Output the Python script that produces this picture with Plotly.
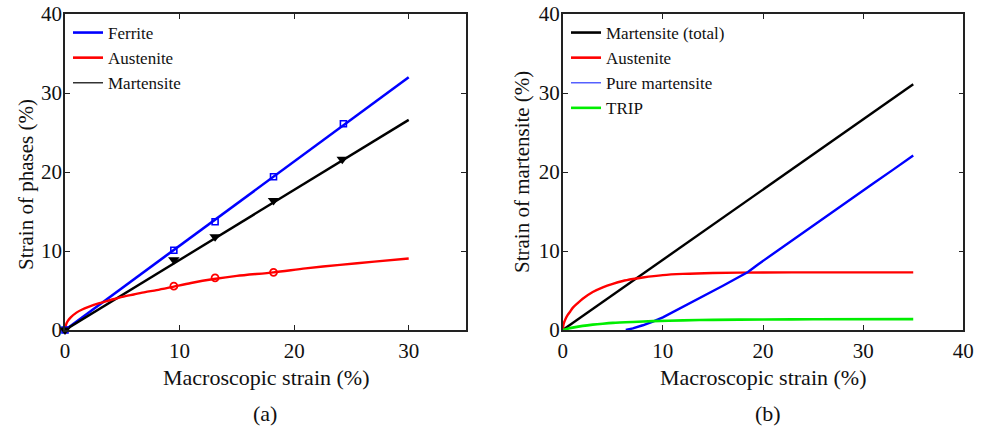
import plotly.graph_objects as go

FONT = "'Times New Roman', 'Liberation Serif', Times, serif"

# ---- Panel (a): strain of phases ----
ferrite_x = [0, 30]
ferrite_y = [0, 32.0]
ferrite_mx = [0, 9.5, 13.1, 18.2, 24.3]
ferrite_my = [0, 10.1, 13.7, 19.4, 26.1]

mart_x = [0, 30]
mart_y = [0, 26.6]
mart_mx = [0, 9.5, 13.1, 18.2, 24.2]
mart_my = [0, 8.9, 11.8, 16.4, 21.6]

aus_x = [0, 0.1, 0.25, 0.5, 1, 1.5, 2, 3, 4, 5, 6, 7, 8, 9.5, 11, 13, 15, 18.2, 21, 24, 27, 30]
aus_y = [0, 0.7, 1.15, 1.6, 2.2, 2.6, 2.9, 3.4, 3.8, 4.2, 4.5, 4.8, 5.05, 5.5, 5.95, 6.45, 6.85, 7.3, 7.8, 8.25, 8.65, 9.05]
aus_mx = [9.5, 13.1, 18.2]
aus_my = [5.55, 6.6, 7.3]

# ---- Panel (b): strain of martensite ----
tot_x = [0, 35]
tot_y = [0, 31.1]

ausb_x = [0, 0.1, 0.25, 0.5, 0.75, 1, 1.5, 2, 3, 4, 5, 6, 7, 8, 10, 12, 15, 20, 25, 35]
ausb_y = [0, 0.8, 1.3, 1.9, 2.35, 2.8, 3.4, 3.95, 4.8, 5.4, 5.85, 6.2, 6.45, 6.65, 6.95, 7.1, 7.22, 7.28, 7.3, 7.3]

pure_x = [6.3, 7.0, 8.0, 9.0, 10.0, 11.0, 12.0, 13.0, 14.0, 15.0, 16.0, 17.0, 18.0, 18.5, 19.5, 21.0, 23.0, 25.0, 27.0, 29.0, 31.0, 33.0, 35.0]
pure_y = [0, 0.2, 0.6, 1.05, 1.6, 2.25, 2.9, 3.55, 4.25, 4.95, 5.6, 6.3, 6.96, 7.35, 8.3, 9.65, 11.45, 13.25, 15.0, 16.8, 18.55, 20.3, 22.1]

trip_x = [0, 0.5, 1, 2, 3, 4, 5, 7, 9, 12, 15, 20, 25, 35]
trip_y = [0, 0.17, 0.3, 0.52, 0.68, 0.8, 0.9, 1.02, 1.12, 1.22, 1.28, 1.33, 1.36, 1.38]

BLUE, RED, BLACK, GREEN = "#0000ff", "#ff0000", "#000000", "#00ee00"

fig = go.Figure()

# Panel (a) lines
fig.add_trace(go.Scatter(x=ferrite_x, y=ferrite_y, mode="lines", line=dict(color=BLUE, width=2.6),
                         showlegend=False, xaxis="x", yaxis="y"))
fig.add_trace(go.Scatter(x=mart_x, y=mart_y, mode="lines", line=dict(color=BLACK, width=2.4),
                         showlegend=False, xaxis="x", yaxis="y"))
fig.add_trace(go.Scatter(x=aus_x, y=aus_y, mode="lines", line=dict(color=RED, width=2.4, shape="spline", smoothing=0.8),
                         showlegend=False, xaxis="x", yaxis="y"))
# Panel (a) markers
fig.add_trace(go.Scatter(x=ferrite_mx, y=ferrite_my, mode="markers", cliponaxis=False,
                         marker=dict(symbol="square-open", size=6, color=BLUE, line=dict(width=1.6)),
                         showlegend=False, xaxis="x", yaxis="y"))
fig.add_trace(go.Scatter(x=mart_mx, y=mart_my, mode="markers", cliponaxis=False,
                         marker=dict(symbol="triangle-down", size=10, color=BLACK),
                         showlegend=False, xaxis="x", yaxis="y"))
fig.add_trace(go.Scatter(x=aus_mx, y=aus_my, mode="markers", cliponaxis=False,
                         marker=dict(symbol="circle-open", size=7, color=RED, line=dict(width=1.8)),
                         showlegend=False, xaxis="x", yaxis="y"))
# Panel (a) legend entries
for name, col, w in [("Ferrite", BLUE, 2.6), ("Austenite", RED, 2.6), ("Martensite", "#333333", 1.5)]:
    fig.add_trace(go.Scatter(x=[None], y=[None], mode="lines", name=name, line=dict(color=col, width=w),
                             legend="legend", xaxis="x", yaxis="y"))

# Panel (b) lines
fig.add_trace(go.Scatter(x=tot_x, y=tot_y, mode="lines", line=dict(color=BLACK, width=2.4),
                         showlegend=False, xaxis="x2", yaxis="y2"))
fig.add_trace(go.Scatter(x=ausb_x, y=ausb_y, mode="lines", line=dict(color=RED, width=2.4, shape="spline", smoothing=0.8),
                         showlegend=False, xaxis="x2", yaxis="y2"))
fig.add_trace(go.Scatter(x=pure_x, y=pure_y, mode="lines", line=dict(color=BLUE, width=2.4),
                         showlegend=False, xaxis="x2", yaxis="y2"))
fig.add_trace(go.Scatter(x=trip_x, y=trip_y, mode="lines", line=dict(color=GREEN, width=2.6, shape="spline", smoothing=0.8),
                         showlegend=False, xaxis="x2", yaxis="y2"))
for name, col, w in [("Martensite (total)", BLACK, 2.6), ("Austenite", RED, 2.6),
                     ("Pure martensite", "#5560ff", 1.5), ("TRIP", GREEN, 2.6)]:
    fig.add_trace(go.Scatter(x=[None], y=[None], mode="lines", name=name, line=dict(color=col, width=w),
                             legend="legend2", xaxis="x2", yaxis="y2"))

W, H = 988, 427
def px(xp):
    return xp / W
def py(yp):
    return 1 - yp / H

axis_common = dict(showline=True, linecolor="#222222", linewidth=1.6, mirror="ticks", ticks="inside",
                   ticklen=5, tickwidth=1.4, tickcolor="#222222", showgrid=False, zeroline=False,
                   automargin=False,
                   tickfont=dict(family=FONT, size=21, color="#111111"))

fig.update_layout(
    width=W, height=H, margin=dict(l=0, r=0, t=0, b=0, pad=0, autoexpand=False),
    paper_bgcolor="white", plot_bgcolor="white",
    font=dict(family=FONT),
    xaxis=dict(domain=[px(65), px(466)], range=[0, 35], tickvals=[0, 10, 20, 30], anchor="y",
               ticklabelstandoff=1, **axis_common),
    yaxis=dict(domain=[py(330), py(14)], range=[0, 40], tickvals=[0, 10, 20, 30, 40], anchor="x",
               ticklabelstandoff=-3, **axis_common),
    xaxis2=dict(domain=[px(562.7), px(963.3)], range=[0, 40], tickvals=[0, 10, 20, 30, 40], anchor="y2",
                ticklabelstandoff=1, **axis_common),
    yaxis2=dict(domain=[py(330), py(14)], range=[0, 40], tickvals=[0, 10, 20, 30, 40], anchor="x2",
                ticklabelstandoff=-3, **axis_common),
    legend=dict(x=px(68), y=py(15), xanchor="left", yanchor="top",
                font=dict(family=FONT, size=17, color="#111111"), bgcolor="rgba(0,0,0,0)",
                itemwidth=30, tracegroupgap=0),
    legend2=dict(x=px(566), y=py(15), xanchor="left", yanchor="top",
                 font=dict(family=FONT, size=17, color="#111111"), bgcolor="rgba(0,0,0,0)",
                 itemwidth=30, tracegroupgap=0),
    annotations=[
        dict(text="Macroscopic strain (%)", x=px(265.5), y=py(377), xref="paper", yref="paper",
             showarrow=False, xanchor="center", yanchor="middle", font=dict(family=FONT, size=22, color="#111111")),
        dict(text="Macroscopic strain (%)", x=px(763), y=py(377), xref="paper", yref="paper",
             showarrow=False, xanchor="center", yanchor="middle", font=dict(family=FONT, size=22, color="#111111")),
        dict(text="(a)", x=px(265), y=py(413), xref="paper", yref="paper",
             showarrow=False, xanchor="center", yanchor="middle", font=dict(family=FONT, size=22, color="#111111")),
        dict(text="(b)", x=px(768), y=py(413), xref="paper", yref="paper",
             showarrow=False, xanchor="center", yanchor="middle", font=dict(family=FONT, size=22, color="#111111")),
        dict(text="Strain of phases (%)", x=px(26), y=py(185), xref="paper", yref="paper", textangle=-90,
             showarrow=False, xanchor="center", yanchor="middle", font=dict(family=FONT, size=21, color="#111111")),
        dict(text="Strain of martensite (%)", x=px(522), y=py(172), xref="paper", yref="paper", textangle=-90,
             showarrow=False, xanchor="center", yanchor="middle", font=dict(family=FONT, size=21, color="#111111")),
    ],
)

fig.write_html("out.html")
